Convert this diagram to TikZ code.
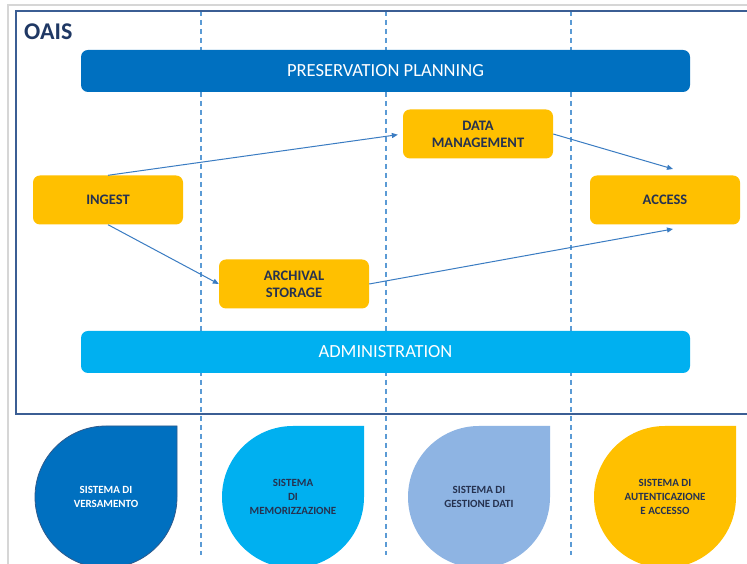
\documentclass[tikz,border=0pt]{standalone}
\usepackage{fontspec}
\setmainfont{Carlito}
\usetikzlibrary{arrows.meta}
\definecolor{darkblue}{HTML}{0070C0}
\definecolor{lightblue}{HTML}{00B0F0}
\definecolor{paleblue}{HTML}{8EB4E3}
\definecolor{boxyellow}{HTML}{FFC000}
\definecolor{navytext}{HTML}{263250}
\definecolor{oaisnavy}{HTML}{1F3864}
\definecolor{framecol}{HTML}{3B5E94}
\definecolor{graycol}{HTML}{D6D6D6}
\definecolor{dashblue}{HTML}{5B9BD5}
\definecolor{arrowblue}{HTML}{3A7CC2}
\definecolor{dropedge}{HTML}{2E5A8C}
\begin{document}
\begin{tikzpicture}[x=1pt,y=1pt,
  procbox/.style={fill=boxyellow, rounded corners=7pt, minimum width=150pt, minimum height=49pt,
    inner sep=0pt, align=center, text=navytext, font=\fontsize{14.5}{17}\selectfont\bfseries},
  bar/.style={rounded corners=7pt, minimum width=609pt, minimum height=42pt, inner sep=0pt,
    text=white, font=\fontsize{18.5}{22}\selectfont},
  flow/.style={draw=arrowblue, line width=1pt, -{Triangle[length=6pt,width=5pt]}},
  gridline/.style={draw=dashblue, line width=1.3pt, dash pattern=on 5pt off 4pt},
  droptext/.style={align=center, inner sep=0pt, font=\fontsize{11}{14}\selectfont\bfseries}]
\useasboundingbox (0,0) rectangle (747,564);
\fill[white] (0,0) rectangle (747,564);
% outer gray frame
\draw[graycol, line width=2pt] (8,0) -- (8,559) -- (747,559);
% dashed column lines
\draw[gridline] (201,553) -- (201,9);
\draw[gridline] (386,553) -- (386,9);
\draw[gridline] (571,553) -- (571,9);
% OAIS frame
\draw[framecol, line width=1.8pt] (747,553) -- (16,553) -- (16,150) -- (747,150);
\node[anchor=base west, inner sep=0pt, text=oaisnavy, font=\fontsize{24}{28}\selectfont\bfseries] (oais) at (24,524) {OAIS};
% bars
\node[bar, fill=darkblue] (pp) at (385.5,493) {PRESERVATION PLANNING};
\node[bar, fill=lightblue] (adm) at (385.5,212) {ADMINISTRATION};
% process boxes
\node[procbox] (ingest) at (108,364) {INGEST};
\node[procbox] (arch) at (294,280) {ARCHIVAL\\STORAGE};
\node[procbox] (dm) at (478,430) {DATA\\MANAGEMENT};
\node[procbox] (access) at (665,364) {ACCESS};
\coordinate (a1) at (673,395);
\coordinate (a2) at (673,335);
% flows
\draw[flow, shorten >=5pt] (ingest.north) -- (dm.west);
\draw[flow] (dm.east) -- (a1);
\draw[flow] (ingest.south) -- (arch.west);
\draw[flow] (arch.east) -- (a2);
% drop shapes
\fill[darkblue, draw=dropedge, line width=0.8pt] (106,138) -- (177,138) -- (177,67) arc[start angle=0, end angle=-270, radius=71] -- cycle;
\fill[lightblue] (293,138) -- (364,138) -- (364,67) arc[start angle=0, end angle=-270, radius=71] -- cycle;
\fill[paleblue] (479,138) -- (550,138) -- (550,67) arc[start angle=0, end angle=-270, radius=71] -- cycle;
\fill[boxyellow] (665,138) -- (736,138) -- (736,67) arc[start angle=0, end angle=-270, radius=71] -- cycle;
\node[droptext, text=white] (s1) at (106,67) {SISTEMA DI\\VERSAMENTO};
\node[droptext, text=navytext] (s2) at (293,67) {SISTEMA\\DI\\MEMORIZZAZIONE};
\node[droptext, text=navytext] (s3) at (479,67) {SISTEMA DI\\GESTIONE DATI};
\node[droptext, text=navytext] (s4) at (665,67) {SISTEMA DI\\AUTENTICAZIONE\\E ACCESSO};
\end{tikzpicture}
\end{document}
